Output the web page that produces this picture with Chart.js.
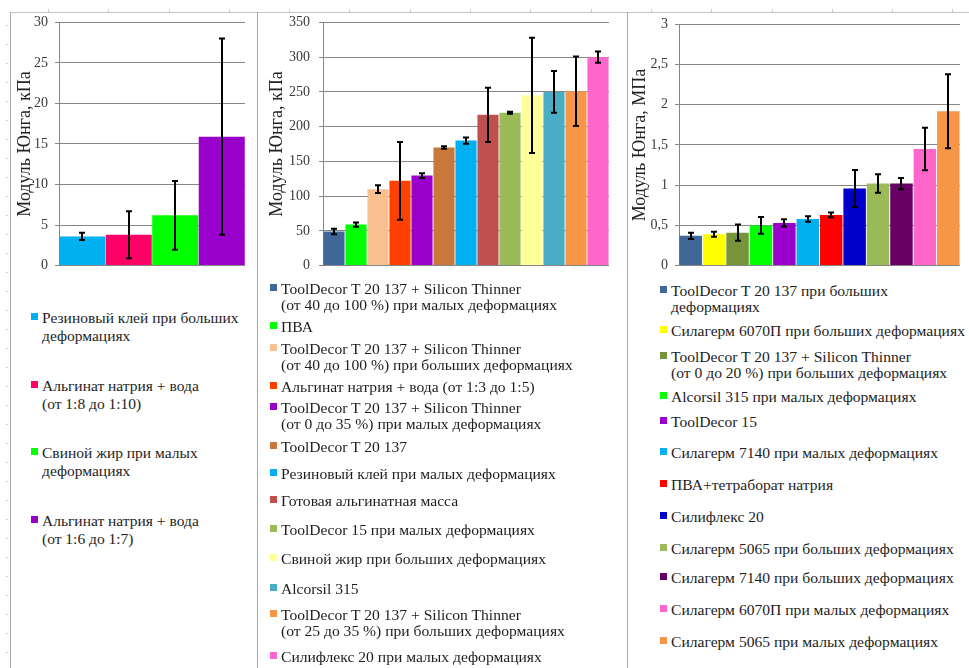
<!DOCTYPE html>
<html><head><meta charset="utf-8">
<script src="https://cdn.jsdelivr.net/npm/chart.js@4.4.1/dist/chart.umd.min.js"></script>
<style>
html,body{margin:0;padding:0;background:#fff;}
#root{position:relative;width:969px;height:668px;overflow:hidden;font-family:"Liberation Serif","Times New Roman",serif;}
.vline{position:absolute;top:12px;bottom:0;width:1px;background:#a8a8a8;}
.hline{position:absolute;top:12px;left:10px;right:0;height:1px;background:#c4c4c4;}
.topticks{position:absolute;top:9px;left:48px;right:0;height:3px;background:repeating-linear-gradient(to right,#d0d0d0 0 1px,transparent 1px 60.3px);}
.leftticks{position:absolute;left:6px;top:25px;width:2px;bottom:0;background:repeating-linear-gradient(to bottom,#d0d0d0 0 1px,transparent 1px 19px);}
canvas{position:absolute;}
.leg{position:absolute;display:flex;align-items:flex-start;white-space:pre;color:#1e1e1e;}
.mk{width:7px;height:7px;flex:none;margin-right:4px;}
</style></head>
<body><div id="root">
<div class="topticks"></div><div class="leftticks"></div>
<div class="hline"></div>
<div class="vline" style="left:10px"></div>
<div class="vline" style="left:257px"></div>
<div class="vline" style="left:627px"></div>
<canvas id="c1" width="248" height="274" style="left:10px;top:7px"></canvas>
<canvas id="c2" width="368" height="278" style="left:258px;top:5px"></canvas>
<canvas id="c3" width="341" height="272" style="left:628px;top:9px"></canvas>
</div>
<script>
// ---- Panel 1 (кПа) ----
const cats1 = ["Резиновый клей при больших\nдеформациях", "Альгинат натрия + вода\n(от 1:8 до 1:10)", "Свиной жир при малых\nдеформациях", "Альгинат натрия + вода\n(от 1:6 до 1:7)"];
const vals1 = [3.6, 3.8, 6.2, 15.9];
const errs1 = [0.45, 2.9, 4.25, 12.1];
const cols1 = ["#00B0F0", "#FF0066", "#00FF00", "#9900CC"];
const ticks1 = [0, 5, 10, 15, 20, 25, 30];
const tickLabels1 = ["0", "5", "10", "15", "20", "25", "30"];

// ---- Panel 2 (кПа) ----
const cats2 = [
  "ToolDecor T 20 137 + Silicon Thinner\n(от 40 до 100 %) при малых деформациях",
  "ПВА",
  "ToolDecor T 20 137 + Silicon Thinner\n(от 40 до 100 %) при больших деформациях",
  "Альгинат натрия + вода (от 1:3 до 1:5)",
  "ToolDecor T 20 137 + Silicon Thinner\n(от 0 до 35 %) при малых деформациях",
  "ToolDecor T 20 137",
  "Резиновый клей при малых деформациях",
  "Готовая альгинатная масса",
  "ToolDecor 15 при малых деформациях",
  "Свиной жир при больших деформациях",
  "Alcorsil 315",
  "ToolDecor T 20 137 + Silicon Thinner\n(от 25 до 35 %) при больших деформациях",
  "Силифлекс 20 при малых деформациях"
];
const vals2 = [49, 59, 110, 122, 129.5, 170, 180, 217, 220, 245, 250, 251, 300];
const errs2 = [4, 3, 5.5, 56, 3.5, 1.7, 4.5, 39, 1.5, 83, 30, 50, 8];
const cols2 = ["#3F6797", "#00FF00", "#FAC090", "#FF4000", "#9900CC", "#C8783A", "#00B0F0", "#C0504D", "#9BBB59", "#FFFF99", "#4BACC6", "#F79646", "#FF66CC"];
const ticks2 = [0, 50, 100, 150, 200, 250, 300, 350];
const tickLabels2 = ["0", "50", "100", "150", "200", "250", "300", "350"];

// ---- Panel 3 (МПа) ----
const cats3 = [
  "ToolDecor T 20 137 при больших\nдеформациях",
  "Силагерм 6070П при больших деформациях",
  "ToolDecor T 20 137 + Silicon Thinner\n(от 0 до 20 %) при больших деформациях",
  "Alcorsil 315 при малых деформациях",
  "ToolDecor 15",
  "Силагерм 7140 при малых деформациях",
  "ПВА+тетраборат натрия",
  "Силифлекс 20",
  "Силагерм 5065 при больших деформациях",
  "Силагерм 7140 при больших деформациях",
  "Силагерм 6070П при малых деформациях",
  "Силагерм 5065 при малых деформациях"
];
const vals3 = [0.37, 0.39, 0.41, 0.5, 0.53, 0.58, 0.63, 0.96, 1.02, 1.02, 1.45, 1.92];
const errs3 = [0.04, 0.03, 0.1, 0.105, 0.045, 0.035, 0.03, 0.23, 0.115, 0.07, 0.265, 0.46];
const cols3 = ["#3F6797", "#FFFF00", "#77933C", "#00FF00", "#9900CC", "#00B0F0", "#FF0000", "#0000CC", "#9BBB59", "#660066", "#FF66CC", "#F79646"];
const ticks3 = [0, 0.5, 1, 1.5, 2, 2.5, 3];
const tickLabels3 = ["0", "0,5", "1", "1,5", "2", "2,5", "3"];

// ---- legend layout (line-1 centre y) ----
const legLayout1 = {x: 31, lh: 17.5, size: 15.5, ys: [318, 386, 453, 521]};
const legLayout2 = {x: 270, lh: 15.5, size: 15.6, ys: [289, 327, 349, 387, 408, 447, 474, 501, 530, 559, 589, 615, 657]};
const legLayout3 = {x: 660, lh: 15.5, size: 15.6, ys: [291, 331, 357, 397, 422, 453, 485, 517, 549, 578, 610, 642]};

const errPlugin = {
  id: 'errbars',
  afterDatasetsDraw(chart) {
    const ctx = chart.ctx, ys = chart.scales.y;
    const ds = chart.data.datasets[0];
    const meta = chart.getDatasetMeta(0);
    ctx.save();
    ctx.strokeStyle = '#000';
    ctx.lineWidth = 2;
    meta.data.forEach((bar, i) => {
      const v = ds.data[i], e = ds.errors[i];
      const t = ys.getPixelForValue(v + e), b = ys.getPixelForValue(v - e);
      const x = Math.round(bar.x);
      ctx.beginPath();
      ctx.moveTo(x, t); ctx.lineTo(x, b);
      ctx.moveTo(x - 3, t); ctx.lineTo(x + 3, t);
      ctx.moveTo(x - 3, b); ctx.lineTo(x + 3, b);
      ctx.stroke();
    });
    ctx.restore();
  }
};

function makeChart(id, cats, vals, errs, cols, tickVals, tickLabels, cfg) {
  return new Chart(document.getElementById(id), {
    type: 'bar',
    data: {
      labels: cats,
      datasets: [{data: vals, errors: errs, backgroundColor: cols, borderWidth: 0,
                  barPercentage: cfg.bp, categoryPercentage: 1}]
    },
    options: {
      responsive: false, animation: false,
      layout: {padding: {top: 0, right: cfg.pr, bottom: 0, left: 0}},
      plugins: {legend: {display: false}, tooltip: {enabled: false}},
      scales: {
        x: {display: false},
        y: {
          min: tickVals[0], max: tickVals[tickVals.length - 1],
          afterBuildTicks: s => { s.ticks = tickVals.map(v => ({value: v})); },
          afterFit: s => { s.width = cfg.axisW; },
          ticks: {padding: cfg.tp, color: '#3a3a3a', font: {family: 'Liberation Serif', size: 14},
                  callback: (v, i) => tickLabels[i]},
          grid: {color: '#868686', lineWidth: 1, tickLength: 4},
          border: {color: '#868686'},
          title: {display: true, text: cfg.title, color: '#222',
                  font: {family: 'Liberation Serif', size: 18}, padding: {top: cfg.titlePad, bottom: 0}}
        }
      }
    },
    plugins: [errPlugin]
  });
}

makeChart('c1', cats1, vals1, errs1, cols1, ticks1, tickLabels1,
  {bp: 0.99, pr: 13, axisW: 49, tp: 7, title: 'Модуль Юнга, кПа', titlePad: 4});
makeChart('c2', cats2, vals2, errs2, cols2, ticks2, tickLabels2,
  {bp: 0.96, pr: 17, axisW: 65, tp: 9, title: 'Модуль Юнга, кПа', titlePad: 8});
makeChart('c3', cats3, vals3, errs3, cols3, ticks3, tickLabels3,
  {bp: 0.96, pr: 9, axisW: 51, tp: 7, title: 'Модуль Юнга, МПа', titlePad: 1});

function makeLegend(cats, cols, lay) {
  const root = document.getElementById('root');
  cats.forEach((c, i) => {
    const d = document.createElement('div');
    d.className = 'leg';
    d.style.left = lay.x + 'px';
    d.style.top = (lay.ys[i] - lay.lh / 2) + 'px';
    d.style.fontSize = lay.size + 'px';
    d.style.lineHeight = lay.lh + 'px';
    const m = document.createElement('span');
    m.className = 'mk';
    m.style.background = cols[i];
    m.style.marginTop = (lay.lh / 2 - 5.5) + 'px';
    const t = document.createElement('span');
    t.textContent = c;
    d.appendChild(m); d.appendChild(t);
    root.appendChild(d);
  });
}
makeLegend(cats1, cols1, legLayout1);
makeLegend(cats2, cols2, legLayout2);
makeLegend(cats3, cols3, legLayout3);
</script>
</body></html>
